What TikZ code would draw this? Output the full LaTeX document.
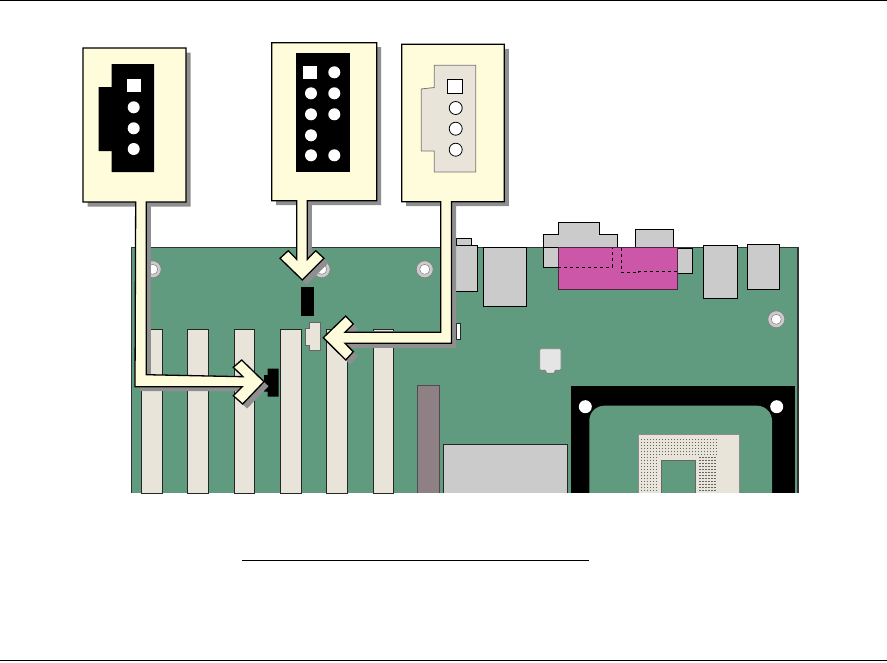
\documentclass[tikz,border=0pt]{standalone}
\definecolor{boardgreen}{HTML}{619B7F}
\definecolor{slotbeige}{HTML}{E8E4D9}
\definecolor{partgray}{HTML}{CBCBCB}
\definecolor{rodgray}{HTML}{8E8084}
\definecolor{portpink}{HTML}{CC57A8}
\definecolor{noteyellow}{HTML}{FFFCDC}
\definecolor{shadegray}{HTML}{8F8F8F}
\tikzset{
  slotbar/.style={draw=black!85, line width=0.8pt, fill=slotbeige},
  grayport/.style={draw=black, line width=0.9pt, fill=partgray},
  header/.style={fill=black},
  pinhole/.style={circle, fill=white, minimum size=12pt, inner sep=0pt},
  pinsquare/.style={rectangle, fill=white, minimum width=14pt, minimum height=13.5pt, inner sep=0pt},
  mountring/.style={circle, fill=partgray, draw=black!50, line width=0.7pt, minimum size=17pt, inner sep=0pt},
  mounthole/.style={circle, fill=white, draw=black!50, line width=0.5pt, minimum size=10pt, inner sep=0pt},
  socketdot/.style={fill=black!60, inner sep=0pt, minimum size=1.1pt, rectangle},
  rulerline/.style={line width=1pt, black}
}
\newcommand{\noteshape}[1]{
  \fill[shadegray, shift={(4.5pt,-4.5pt)}] #1;
  \draw[fill=noteyellow, line width=1.3pt, line join=miter] #1;
}
\begin{document}
\begin{tikzpicture}[x=1pt, y=-1pt]
\useasboundingbox (0,0) rectangle (887,662);
\coordinate (topleft) at (0,0.5);
\coordinate (topright) at (887,0.5);
\coordinate (botleft) at (0,660.5);
\coordinate (botright) at (887,660.5);
\coordinate (noteleft) at (242,560.5);
\coordinate (noteright) at (589,560.5);
\draw[rulerline] (topleft) -- (topright);
\draw[rulerline] (botleft) -- (botright);
\draw[rulerline] (noteleft) -- (noteright);

% parts behind the board edge
\draw[grayport] (456,238.3) rectangle (471.7,246);
\draw[grayport] (543.3,267.3) -- (543.3,234.3) -- (558.3,234.3) -- (558.3,222.3) -- (599.7,222.3) -- (599.7,234.3) -- (617.7,234.3) -- (617.7,267.3) -- cycle;
\draw[grayport] (635.3,248) -- (635.3,229.3) -- (673.3,229.3) -- (673.3,248);

% board
\fill[boardgreen] (131.5,247.5) rectangle (798,493);
\draw[black!80, line width=1.2pt] (131.5,493) -- (131.5,247.5) -- (798,247.5) -- (798,493);

% rear ports
\draw[grayport] (452,245.5) rectangle (477.7,291.3);
\draw[grayport] (483.3,247.3) rectangle (526.7,306.7);
\draw[grayport] (543.3,247.3) rectangle (617.7,267.3);
\draw[grayport] (665,248.3) rectangle (692.3,273.3);
\draw[grayport] (703.3,245.3) rectangle (737.3,298.3);
\draw[grayport] (747.3,244.3) rectangle (779.7,289.3);
\draw[draw=black!60!portpink, line width=0.8pt, fill=portpink] (558.3,247.5) rectangle (677.3,289.3);
\draw[black, line width=0.8pt, dashed] (558.3,267.3) -- (612.3,267.3) -- (612.3,247.5);
\draw[black, line width=0.8pt, dashed] (621.3,247.5) -- (621.3,272.3) -- (638.7,272.3) -- (638.7,271.3) -- (677.3,271.3);

% slots
\foreach \slotx/\slotw in {141.7/21, 187.3/21.4, 234.3/20.4, 280.3/21.4, 326.3/21.4, 373.3/20.4}
  \draw[slotbar] (\slotx,329.3) rectangle ++(\slotw,163.7);
\draw[draw=black!40, line width=0.6pt] (373.3,331.5) -- (393.7,331.5);
\draw[draw=black!85, line width=0.8pt, fill=white] (456.7,323.3) rectangle (460.7,339.3);
\draw[draw=none, fill=rodgray] (417.3,385.3) rectangle (439.3,493);
\draw[draw=black!70, line width=0.6pt] (417.3,493) -- (417.3,385.3) -- (439.3,385.3) -- (439.3,493);
\draw[draw=black!85, line width=0.8pt, fill=partgray] (443.3,493) -- (443.3,444.3) -- (567.7,444.3) -- (567.7,493);
\draw[draw=black!50, line width=0.9pt, fill=black!10, rounded corners=1pt] (539.7,348.7) -- (561,348.7) -- (561,370.3) -- (554.7,370.3) -- (554.7,373.3) -- (546,373.3) -- (546,370.3) -- (539.7,370.3) -- cycle;

% mounting holes
\foreach \holename/\holex/\holey in {holeone/152.7/269.3, holetwo/321.7/269.3, holethree/424.7/269.3, holefour/776.3/319.3} {
  \node[mountring] (\holename ring) at (\holex,\holey) {};
  \node[mounthole] (\holename) at (\holex,\holey) {};
}

% processor frame and socket
\fill[black] (571,386.3) rectangle (795,493);
\fill[boardgreen, rounded corners=15pt] (589.3,520) -- (589.3,405.7) -- (772,405.7) -- (772,520) -- cycle;
\fill[white] (570,493) rectangle (796,525);
\node[circle, fill=white, minimum size=13pt, inner sep=0pt] (cornerleft) at (585.3,406.7) {};
\node[circle, fill=white, minimum size=13pt, inner sep=0pt] (cornerright) at (776.7,406.7) {};
\draw[draw=black!45, line width=1pt, fill=slotbeige] (638.5,493) -- (638.5,434.5) -- (739,434.5) -- (739,493);
\draw[draw=black!60, line width=1pt, fill=boardgreen] (661.7,493) -- (661.7,460) -- (695.7,460) -- (695.7,493);
\foreach \i in {0,...,25}
  \foreach \j in {0,...,5}
    \node[socketdot] (dota\i\j) at (641.5+3*\i,439.5+3*\j) {};
\foreach \i in {0,...,5}
  \foreach \j in {6,...,17} {
    \node[socketdot] (dotb\i\j) at (641.5+3*\i,439.5+3*\j) {};
    \node[socketdot] (dotc\i\j) at (700+3*\i,439.5+3*\j) {};
  }

% small headers on the board
\fill[header] (301.3,287.3) rectangle (313.7,315.7);
\draw[draw=black!60, line width=0.8pt, fill=slotbeige] (309.3,322.7) -- (320.3,322.7) -- (320.3,350.7) -- (309.3,350.7) -- (309.3,345) -- (305.7,345) -- (305.7,328.3) -- (309.3,328.3) -- cycle;
\fill[header] (267.7,368.7) -- (278.7,368.7) -- (278.7,396.7) -- (267.7,396.7) -- (267.7,391.7) -- (264,391.7) -- (264,375) -- (267.7,375) -- cycle;

% callouts
\noteshape{(83,48) -- (186,48) -- (186,202) -- (146.3,202) -- (146.3,374.7) -- (243,376.7) -- (233.3,367.3) -- (241.7,360) -- (264,381.7) -- (242.7,404) -- (233.3,395.7) -- (242.3,386.7) -- (135,386.7) -- (135.7,202) -- (83,202) -- cycle}
\noteshape{(271.7,42.7) -- (376.7,42.7) -- (376.7,200.7) -- (307.3,200.7) -- (307.3,259.3) -- (315.7,250.7) -- (324,258.3) -- (302.3,280) -- (280,258.3) -- (288.3,250.7) -- (296.7,259.3) -- (296.7,200.7) -- (271.7,200.7) -- cycle}
\noteshape{(401.7,44.3) -- (504.3,44.3) -- (504.3,201.7) -- (451.5,201.7) -- (451.5,343.3) -- (345,343.3) -- (353.3,351.7) -- (345.7,360) -- (323.3,337.7) -- (345.7,316) -- (353.3,324) -- (345,332.3) -- (440.7,332.3) -- (440.7,201.7) -- (401.7,201.7) -- cycle}

% connector one
\fill[header] (111.7,64) -- (154,64) -- (154,172) -- (111.7,172) -- (111.7,151) -- (98.7,151) -- (98.7,87) -- (111.7,87) -- cycle;
\node[pinsquare] (onesq) at (134.2,85.7) {};
\foreach \pinname/\piny in {onea/107.3, oneb/128.3, onec/149}
  \node[pinhole] (\pinname) at (133.7,\piny) {};

% connector two
\fill[header] (296,53) rectangle (349.7,172);
\node[pinsquare] (twosq) at (310,72.3) {};
\foreach \pinname/\piny in {twoa/93.3, twob/114.3, twoc/135.3, twod/155.3}
  \node[pinhole] (\pinname) at (311,\piny) {};
\foreach \pinname/\piny in {twoe/72.3, twof/93.3, twog/114.3, twoh/155.3}
  \node[pinhole] (\pinname) at (334.3,\piny) {};

% connector three
\draw[draw=black!55, line width=0.8pt, fill=slotbeige] (434.3,65.3) -- (475.7,65.3) -- (475.7,172) -- (434.3,172) -- (434.3,151) -- (421.3,151) -- (421.3,89) -- (434.3,87.5) -- cycle;
\node[pinsquare, draw=black, line width=0.8pt, minimum width=15pt, minimum height=13.5pt] (threesq) at (455,86.5) {};
\foreach \pinname/\piny in {threea/108, threeb/128.7, threec/149.7}
  \node[pinhole, draw=black, line width=0.8pt, minimum size=13pt] (\pinname) at (455.7,\piny) {};
\end{tikzpicture}
\end{document}
